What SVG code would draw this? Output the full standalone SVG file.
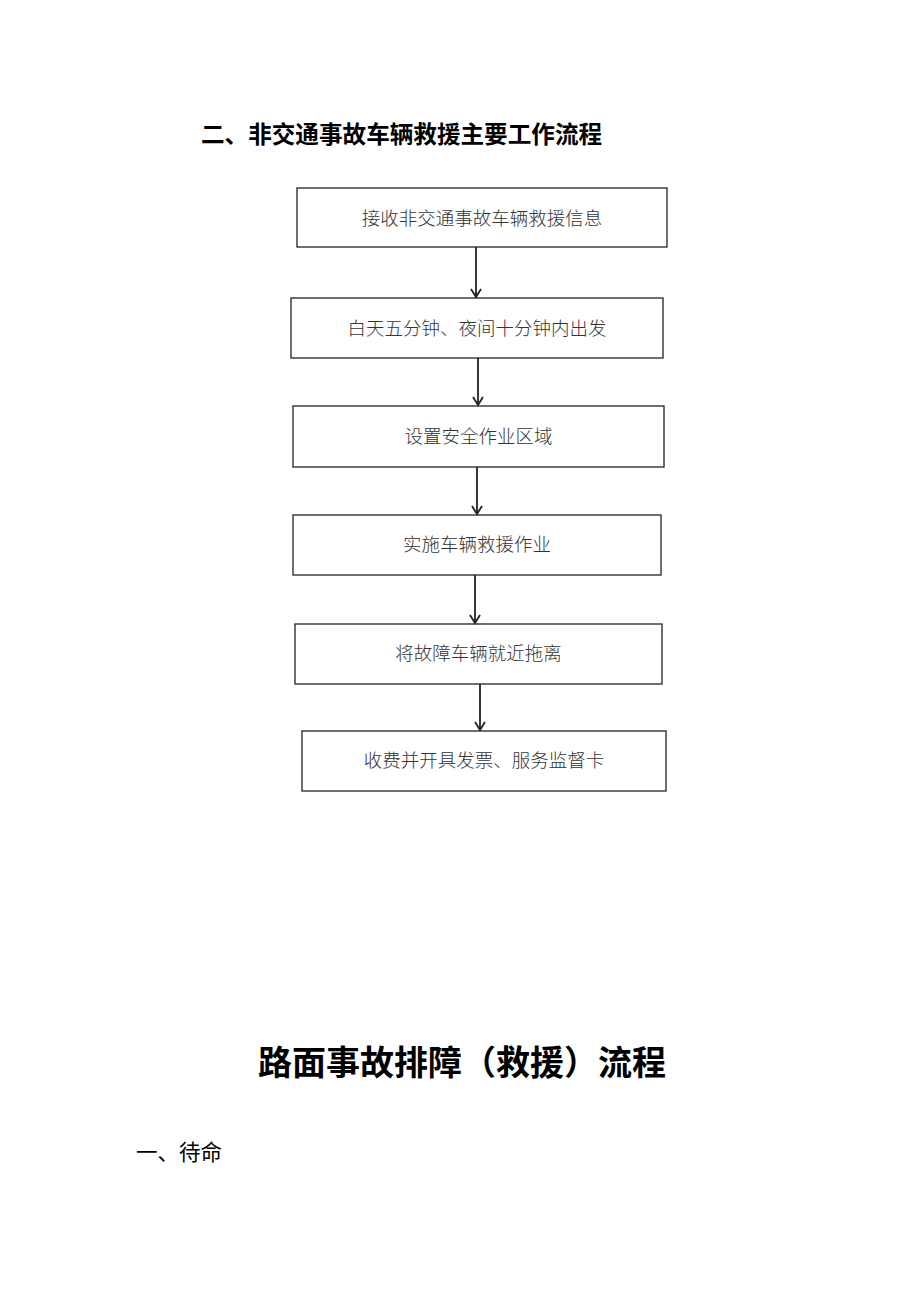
<svg xmlns="http://www.w3.org/2000/svg" width="920" height="1302" viewBox="0 0 920 1302">
<style>
.box{fill:#fff;stroke:#222;stroke-width:1.3}
.bt{font-family:"Noto Sans CJK SC","Liberation Serif",sans-serif;font-size:18.5px;font-weight:300;fill:#333;text-anchor:middle}
.conn line{stroke:#222;stroke-width:1.8;fill:none}
</style>
<defs>
<marker id="arr" markerWidth="12" markerHeight="12" refX="10" refY="6" orient="auto" markerUnits="userSpaceOnUse" viewBox="0 0 12 12">
<polyline points="2,1 10,6 2,11" fill="none" stroke="#222" stroke-width="1.8"/>
</marker>
</defs>
<rect width="920" height="1302" fill="#fff"/>
<text x="201" y="143" font-family="Noto Sans CJK SC,sans-serif" font-size="23.6" font-weight="bold" fill="#000">二、非交通事故车辆救援主要工作流程</text>
<g id="n1"><rect class="box" x="297" y="188" width="370" height="59"/><text class="bt" x="482" y="225">接收非交通事故车辆救援信息</text></g>
<g id="n2"><rect class="box" x="291" y="298" width="372" height="60"/><text class="bt" x="477" y="335">白天五分钟、夜间十分钟内出发</text></g>
<g id="n3"><rect class="box" x="293" y="406" width="371" height="61"/><text class="bt" x="478.5" y="443">设置安全作业区域</text></g>
<g id="n4"><rect class="box" x="293" y="515" width="368" height="60"/><text class="bt" x="477" y="551">实施车辆救援作业</text></g>
<g id="n5"><rect class="box" x="295" y="624" width="367" height="60"/><text class="bt" x="478.5" y="660">将故障车辆就近拖离</text></g>
<g id="n6"><rect class="box" x="302" y="731" width="364" height="60"/><text class="bt" x="484" y="767">收费并开具发票、服务监督卡</text></g>
<g class="conn" id="connectors">
<line x1="476" y1="247" x2="476" y2="297" marker-end="url(#arr)"/>
<line x1="478" y1="358" x2="478" y2="405" marker-end="url(#arr)"/>
<line x1="477" y1="467" x2="477" y2="514" marker-end="url(#arr)"/>
<line x1="475" y1="575" x2="475" y2="623" marker-end="url(#arr)"/>
<line x1="480" y1="684" x2="480" y2="730" marker-end="url(#arr)"/>
</g>
<text x="258" y="1075" font-family="Noto Sans CJK SC,sans-serif" font-size="34" font-weight="bold" fill="#000">路面事故排障（救援）流程</text>
<text x="136" y="1160" font-family="Noto Sans CJK SC,sans-serif" font-size="21.5" fill="#000">一、待命</text>
</svg>
